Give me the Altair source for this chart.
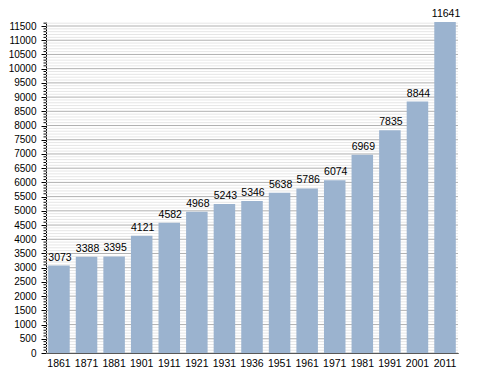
import altair as alt
import pandas as pd

years = ["1861", "1871", "1881", "1901", "1911", "1921", "1931", "1936",
         "1951", "1961", "1971", "1981", "1991", "2001", "2011"]
population = [3073, 3388, 3395, 4121, 4582, 4968, 5243, 5346,
              5638, 5786, 6074, 6969, 7835, 8844, 11641]
major_ticks = list(range(0, 11501, 500))
minor_ticks = [v for v in range(0, 11601, 100) if v % 500 != 0]

df = pd.DataFrame({"year": years, "pop": population})
minor_df = pd.DataFrame({"v": minor_ticks})
major_df = pd.DataFrame({"v": major_ticks})

FONT = "Liberation Sans"
W, H = 412, 331

yscale = alt.Scale(domain=[0, 11641], nice=False, zero=True)
yaxis = alt.Axis(title=None, values=major_ticks, format="d", grid=False, domainColor="#000000",
                 tickColor="#000000", tickSize=5, labelFont=FONT, labelFontSize=10,
                 labelColor="#000000", labelPadding=5)

minor_grid = alt.Chart(minor_df).mark_rule(color="#e6e6e6", strokeWidth=1).encode(
    y=alt.Y("v:Q", scale=yscale, axis=yaxis),
    x=alt.value(0), x2=alt.value(W),
)
major_grid = alt.Chart(major_df).mark_rule(color="#b0b0b0", strokeWidth=1).encode(
    y=alt.Y("v:Q", scale=yscale, axis=yaxis),
    x=alt.value(0), x2=alt.value(W),
)
minor_tick = alt.Chart(minor_df).mark_rule(color="#000000", strokeWidth=1).encode(
    y=alt.Y("v:Q", scale=yscale, axis=yaxis),
    x=alt.value(-2.5), x2=alt.value(0),
)

bars = alt.Chart(df).mark_bar(color="#9bb3cf").encode(
    x=alt.X("year:N", sort=years, scale=alt.Scale(paddingInner=0.22, paddingOuter=0.08),
            axis=alt.Axis(title=None, labelAngle=0, ticks=False, domain=True,
                          domainColor="#000000", labelFont=FONT, labelFontSize=10.5,
                          labelColor="#000000", labelPadding=5)),
    y=alt.Y("pop:Q", scale=yscale, axis=yaxis),
)
labels = alt.Chart(df).mark_text(dy=-8, dx=1, font=FONT, fontSize=10.5, color="#000000").encode(
    x=alt.X("year:N", sort=years),
    y=alt.Y("pop:Q", scale=yscale, axis=yaxis),
    text="pop:Q",
)

chart = alt.layer(minor_grid, major_grid, minor_tick, bars, labels).properties(
    width=W, height=H,
    autosize=alt.AutoSizeParams(type="none"),
    padding={"left": 38, "top": 14, "right": 20, "bottom": 20},
).configure_view(stroke=None).configure_axis(labelFlush=False)

chart.save("out.html", embed_options={"renderer": "svg", "actions": False})
